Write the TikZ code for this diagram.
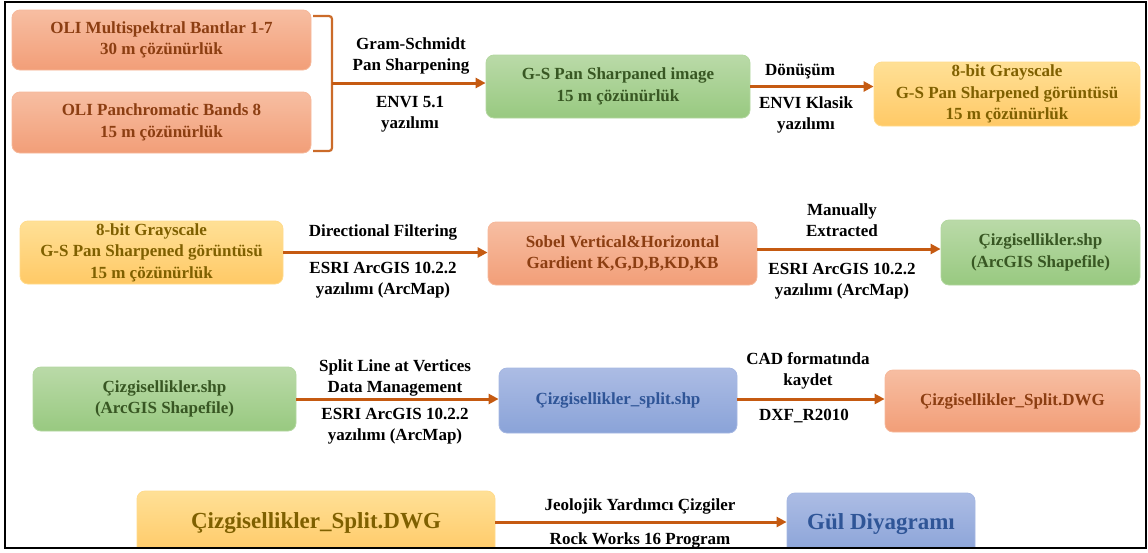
\documentclass[tikz,border=0pt]{standalone}
\usepackage{fontspec}
\setmainfont{Liberation Serif}
\usetikzlibrary{arrows.meta}

\definecolor{orTop}{RGB}{247,190,162}
\definecolor{orBot}{RGB}{242,158,120}
\definecolor{orText}{RGB}{140,62,18}
\definecolor{grTop}{RGB}{186,218,168}
\definecolor{grBot}{RGB}{152,201,128}
\definecolor{grText}{RGB}{56,87,35}
\definecolor{yeTop}{RGB}{255,224,150}
\definecolor{yeBot}{RGB}{255,201,102}
\definecolor{yeText}{RGB}{127,96,0}
\definecolor{blTop}{RGB}{172,188,228}
\definecolor{blBot}{RGB}{138,163,216}
\definecolor{blText}{RGB}{47,85,151}
\definecolor{flowline}{RGB}{197,90,17}

\tikzset{
  box/.style={rounded corners=8pt, align=center, inner sep=0pt, line width=0.8pt,
    font=\bfseries\fontsize{17}{21.5}\selectfont},
  orbox/.style={box, top color=orTop, bottom color=orBot, draw=orTop!80!orBot, text=orText},
  grbox/.style={box, top color=grTop, bottom color=grBot, draw=grTop!80!grBot, text=grText},
  yebox/.style={box, top color=yeTop, bottom color=yeBot, draw=yeTop!80!yeBot, text=yeText},
  blbox/.style={box, top color=blTop, bottom color=blBot, draw=blTop!80!blBot, text=blText},
  lbl/.style={align=center, inner sep=0pt, font=\bfseries\fontsize{17}{21}\selectfont},
  flow/.style={draw=flowline, line width=3pt, -{Triangle[length=10pt,width=10pt]}},
}

\begin{document}
\begin{tikzpicture}[x=1pt,y=-1pt]
\useasboundingbox (0,0) rectangle (1148,552);
\begin{scope}
\clip (5,2) rectangle (1146,548);

% row 1: pan sharpening
\node[orbox, minimum width=299pt, minimum height=60pt] (oliMS) at (161.5,40)
  {OLI Multispektral Bantlar 1-7\\30 m çözünürlük};
\node[orbox, minimum width=299pt, minimum height=61pt] (oliPan) at (161.5,122.5)
  {OLI Panchromatic Bands 8\\15 m çözünürlük};
\coordinate (brace) at (332,83);
\draw[flowline!90!white, line width=2.2pt, rounded corners=3pt]
  (313,16) -- (332,16) -- (332,151) -- (313,151);
\draw[flowline!90!white, line width=2.2pt] (brace) -- ++(4,0);
\node[grbox, minimum width=264pt, minimum height=63pt] (gsImage) at (618,86.5)
  {G-S Pan Sharpaned image\\15 m çözünürlük};
\node[yebox, minimum width=266pt, minimum height=64pt] (gray1) at (1007,94)
  {8-bit Grayscale\\G-S Pan Sharpened görüntüsü\\15 m çözünürlük};
\draw[flow] (brace) -- (brace -| gsImage.west);
\draw[flow] (gsImage.east) -- (gsImage.east -| gray1.west);
\node[lbl] (gsName) at (411,55.5) {Gram-Schmidt\\Pan Sharpening};
\node[lbl] (envi) at (410,114) {ENVI 5.1\\yazılımı};
\node[lbl] (donusum) at (800,72) {Dönüşüm};
\node[lbl] (enviKl) at (806,115) {ENVI Klasik\\yazılımı};

% row 2: filtering
\node[yebox, minimum width=263pt, minimum height=63pt] (gray2) at (151.5,252.5)
  {8-bit Grayscale\\G-S Pan Sharpened görüntüsü\\15 m çözünürlük};
\node[orbox, minimum width=269pt, minimum height=63pt] (sobel) at (622.5,253.5)
  {Sobel Vertical\&Horizontal\\Gardient K,G,D,B,KD,KB};
\node[grbox, minimum width=199pt, minimum height=65pt] (shpA) at (1040.5,252.5)
  {Çizgisellikler.shp\\(ArcGIS Shapefile)};
\draw[flow] (gray2.east) -- (gray2.east -| sobel.west);
\draw[flow] (sobel.east |- 0,249) -- (shpA.west |- 0,249);
\node[lbl] (dirFilt) at (383,232) {Directional Filtering};
\node[lbl] (esriA) at (383,280.5) {ESRI ArcGIS 10.2.2\\yazılımı (ArcMap)};
\node[lbl] (manual) at (842,220.5) {Manually\\Extracted};
\node[lbl] (esriB) at (842,281.5) {ESRI ArcGIS 10.2.2\\yazılımı (ArcMap)};

% row 3: split and export
\node[grbox, minimum width=263pt, minimum height=64pt] (shpB) at (164.5,399)
  {Çizgisellikler.shp\\(ArcGIS Shapefile)};
\node[blbox, minimum width=238pt, minimum height=65pt] (split) at (618,400.5)
  {Çizgisellikler\_split.shp};
\node[orbox, minimum width=255pt, minimum height=62pt] (dwgA) at (1012.5,401)
  {Çizgisellikler\_Split.DWG};
\draw[flow] (shpB.east) -- (shpB.east -| split.west);
\draw[flow] (split.east |- shpB.east) -- (dwgA.west |- shpB.east);
\node[lbl] (splitLn) at (395,377.5) {Split Line at Vertices\\Data Management};
\node[lbl] (esriC) at (395,426) {ESRI ArcGIS 10.2.2\\yazılımı (ArcMap)};
\node[lbl] (cadFmt) at (808,371) {CAD formatında\\kaydet};
\node[lbl] (dxf) at (804,416) {DXF\_R2010};

% row 4: rose diagram
\node[yebox, minimum width=358pt, minimum height=64pt, font=\bfseries\fontsize{23}{26}\selectfont]
  (dwgB) at (316,523) {Çizgisellikler\_Split.DWG};
\node[blbox, minimum width=188pt, minimum height=62pt, font=\bfseries\fontsize{23}{26}\selectfont]
  (gul) at (881,524) {Gül Diyagramı};
\draw[flow] (dwgB.east |- 0,522) -- (gul.west |- 0,522);
\node[lbl] (jeo) at (640,506) {Jeolojik Yardımcı Çizgiler};
\node[lbl] (rock) at (640,540) {Rock Works 16 Program};
\end{scope}

% frame
\draw[line width=2.6pt] (5,2) rectangle (1146,548);
\end{tikzpicture}
\end{document}
